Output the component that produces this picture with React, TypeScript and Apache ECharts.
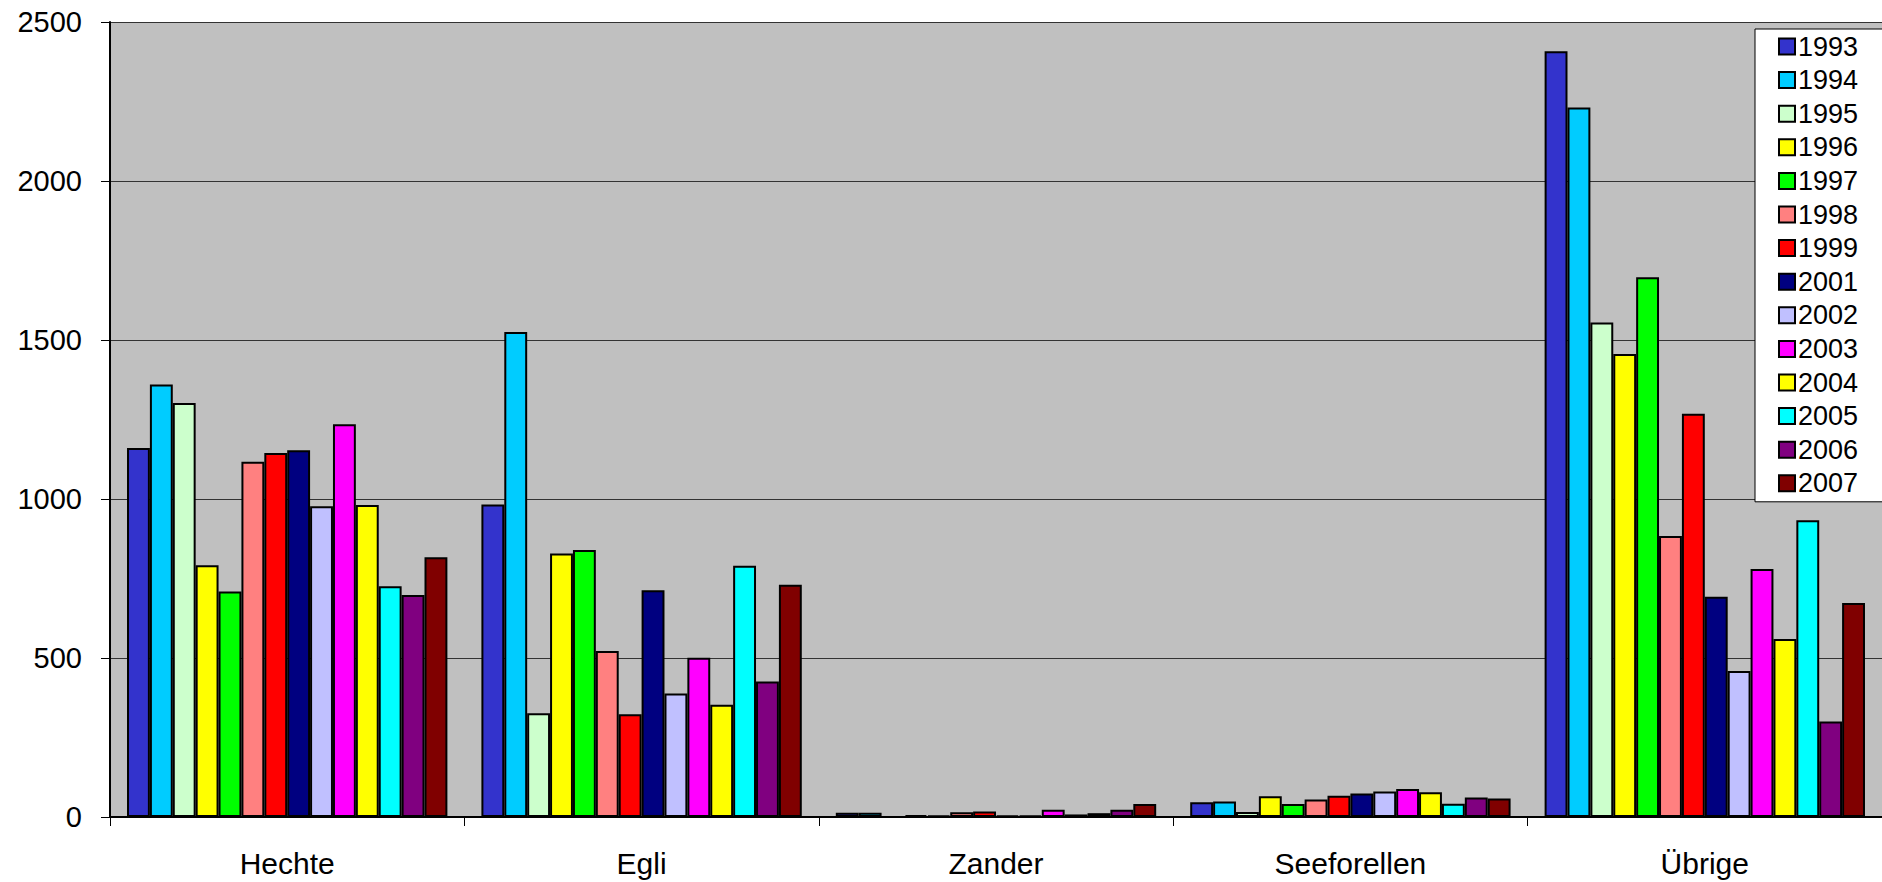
import React, { useEffect, useRef } from "react";
import * as echarts from "echarts";

const categories = ["Hechte", "Egli", "Zander", "Seeforellen", "Übrige"];
const years = ["1993", "1994", "1995", "1996", "1997", "1998", "1999", "2001", "2002", "2003", "2004", "2005", "2006", "2007"];
const colors = ["#3333CC", "#00CCFF", "#CCFFCC", "#FFFF00", "#00FF00", "#FF8080", "#FF0000", "#000080", "#C0C0FF", "#FF00FF", "#FFFF00", "#00FFFF", "#800080", "#800000"];

const v1993 = [1160, 983, 13, 46, 2408];
const v1994 = [1360, 1525, 13, 49, 2231];
const v1995 = [1302, 326, 0, 16, 1555];
const v1996 = [792, 829, 6, 65, 1456];
const v1997 = [709, 840, 4, 41, 1697];
const v1998 = [1117, 522, 15, 55, 884];
const v1999 = [1145, 323, 17, 67, 1268];
const v2001 = [1153, 713, 4, 74, 693];
const v2002 = [977, 388, 4, 80, 459];
const v2003 = [1235, 501, 23, 88, 780];
const v2004 = [981, 353, 8, 78, 560];
const v2005 = [726, 790, 12, 42, 933];
const v2006 = [698, 426, 23, 61, 300];
const v2007 = [817, 730, 41, 58, 673];

const seriesValues = [v1993, v1994, v1995, v1996, v1997, v1998, v1999, v2001, v2002, v2003, v2004, v2005, v2006, v2007];

const yTicks = { min: 0, max: 2500, interval: 500 };

export default function App() {
  const ref = useRef<HTMLDivElement>(null);
  useEffect(() => {
    if (!ref.current) return;
    const chart = echarts.init(ref.current, undefined, { renderer: "svg" });
    const font = "Liberation Sans, Arial, sans-serif";
    chart.setOption({
      animation: false,
      backgroundColor: "#ffffff",
      textStyle: { fontFamily: font },
      grid: {
        left: 110,
        top: 22,
        bottom: 65,
        right: -4,
        show: true,
        backgroundColor: "#C0C0C0",
        borderWidth: 0,
      },
      legend: {
        orient: "vertical",
        left: 1755,
        top: 29,
        padding: [4, 40, 5, 23],
        backgroundColor: "#ffffff",
        borderColor: "#000000",
        borderWidth: 1,
        itemWidth: 16,
        itemHeight: 16,
        itemGap: 6.6,
        icon: "rect",
        data: years,
        textStyle: { fontSize: 27, lineHeight: 27, color: "#000", fontFamily: font, padding: [0, 0, 0, -2] },
      },
      xAxis: {
        type: "category",
        data: categories,
        axisLine: { lineStyle: { color: "#000", width: 2 } },
        axisTick: { show: true, length: 9, lineStyle: { color: "#000", width: 1 } },
        axisLabel: { fontSize: 30, color: "#000", margin: 31, fontFamily: font },
      },
      yAxis: {
        type: "value",
        min: yTicks.min,
        max: yTicks.max,
        interval: yTicks.interval,
        axisLine: { show: true, lineStyle: { color: "#000", width: 2 } },
        axisTick: { show: true, length: 9, lineStyle: { color: "#000", width: 1 } },
        axisLabel: { fontSize: 29, color: "#000", margin: 28, fontFamily: font, formatter: (v: number) => String(v) },
        splitLine: { show: true, lineStyle: { color: "#333", width: 1 } },
      },
      series: years.map((y, i) => ({
        name: y,
        type: "bar",
        data: seriesValues[i],
        barGap: "0%",
        barCategoryGap: "9.6%",
        itemStyle: { color: colors[i], borderColor: "#000", borderWidth: 2 },
      })),
    });
    return () => chart.dispose();
  }, []);
  return <div ref={ref} style={{ position: "fixed", left: 0, top: 0, width: 1882, height: 882 }} />;
}
